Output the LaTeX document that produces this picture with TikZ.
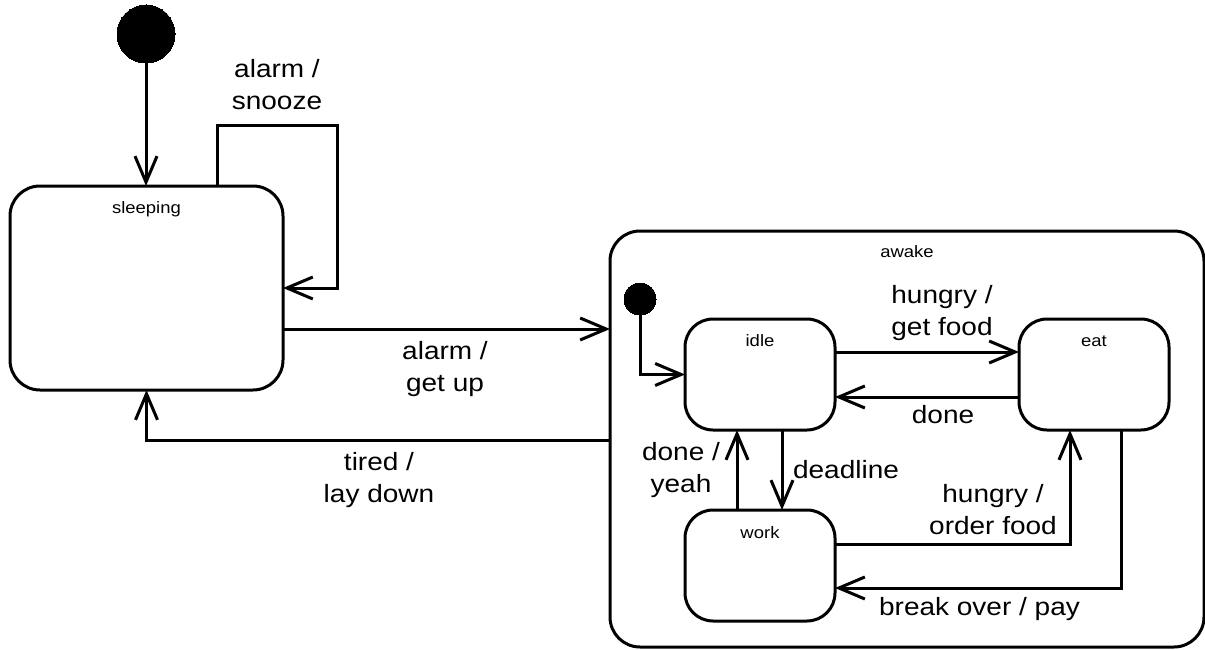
\documentclass[tikz,border=0pt]{standalone}
\usepackage{fontspec}
\setmainfont{Liberation Sans}[FakeStretch=1.12]
\usetikzlibrary{arrows.meta}
\tikzset{
  state/.style={draw, line width=3pt, rounded corners=30pt, outer sep=0pt, inner sep=0pt},
  initstate/.style={circle, fill=black, draw, line width=0pt, outer sep=0pt, inner sep=0pt},
  tr/.style={line width=3pt, -{Straight Barb[length=26pt,width=22pt]}},
  lbl/.style={font=\fontsize{25}{32}\selectfont, align=center, anchor=base, inner sep=0pt},
  slbl/.style={font=\fontsize{16.5}{20}\selectfont, anchor=base, inner sep=0pt}
}
\begin{document}
\begin{tikzpicture}[x=1pt,y=-1pt]
\useasboundingbox (0,0) rectangle (1205,650);
% states
\node[state, minimum width=273pt, minimum height=204pt] (sleeping) at (146.5,288) {};
\node[state, minimum width=594pt, minimum height=416pt] (awake) at (907,439) {};
\node[state, rounded corners=28pt, minimum width=150pt, minimum height=111pt] (idle) at (760,374.5) {};
\node[state, rounded corners=28pt, minimum width=150pt, minimum height=111pt] (eat) at (1094,374.5) {};
\node[state, rounded corners=28pt, minimum width=150pt, minimum height=111pt] (work) at (760,565.5) {};
% state names
\node[slbl] (sleepingname) at ([yshift=-27pt]sleeping.north) {sleeping};
\node[slbl] (awakename) at ([yshift=-26pt]awake.north) {awake};
\node[slbl] (idlename) at ([yshift=-27pt]idle.north) {idle};
\node[slbl] (eatname) at ([yshift=-27pt]eat.north) {eat};
\node[slbl] (workname) at ([yshift=-28pt]work.north) {work};
% initial states
\node[initstate, minimum size=58pt] (init) at (146,34) {};
\node[initstate, minimum size=32pt] (init2) at (640,299) {};
% transitions
\draw[tr] (init) -- (init |- sleeping.north);
\draw[tr] ([xshift=71pt]sleeping.north) |- (337,126) |- (sleeping.east);
\draw[tr] (sleeping.east |- 0,329) -- (awake.west |- 0,329);
\draw[tr] (awake.west |- 0,440) -| (sleeping.south);
\draw[tr] (init2) |- (idle.west);
\draw[tr] (idle.east |- 0,352) -- (eat.west |- 0,352);
\draw[tr] (eat.west |- 0,397) -- (idle.east |- 0,397);
\draw[tr] (idle.south -| 782,0) -- (work.north -| 782,0);
\draw[tr] (work.north -| 737,0) -- (idle.south -| 737,0);
\draw[tr] (work.east |- 0,544) -| (eat.south -| 1070,0);
\draw[tr] (eat.south -| 1121,0) |- (work.east |- 0,588);
% labels (base = baseline of last line)
\node[lbl] (l1) at (277,110) {alarm /\\snooze};
\node[lbl] (l2) at (445,391) {alarm /\\get up};
\node[lbl] (l3) at (379,502) {tired /\\lay down};
\node[lbl] (l4) at (942,335) {hungry /\\get food};
\node[lbl] (l5) at (943,423) {done};
\node[lbl] (l6) at (846,478) {deadline};
\node[lbl] (l7) at (681,492) {done /\\yeah};
\node[lbl] (l8) at (993,534) {hungry /\\order food};
\node[lbl] (l9) at (979.5,615) {break over / pay};
\end{tikzpicture}
\end{document}
